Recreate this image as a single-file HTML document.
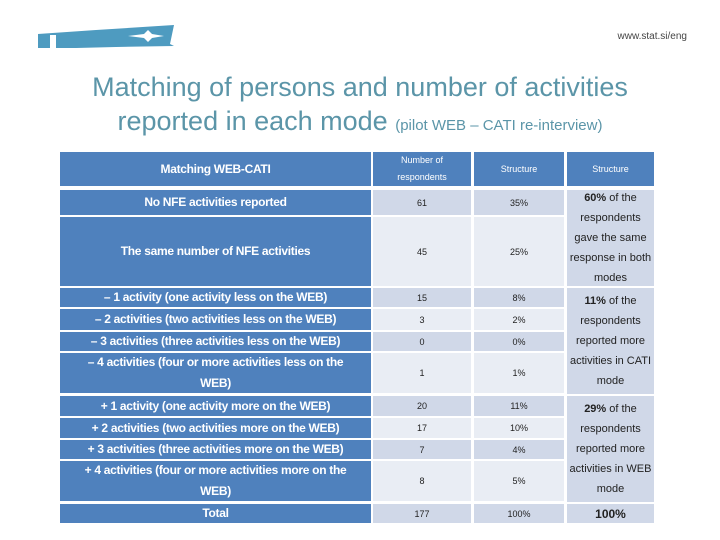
<!DOCTYPE html>
<html><head><meta charset="utf-8"><style>
body{margin:0;width:720px;height:540px;background:#fff;position:relative;overflow:hidden;font-family:"Liberation Sans",sans-serif}
.c{position:absolute;display:flex;align-items:center;justify-content:center;text-align:center;box-sizing:border-box}
.h{background:#4f81bd;color:#fff}
.l{font-size:12px;font-weight:bold;line-height:21px;letter-spacing:-0.3px}
.n{font-size:9px;color:#222}
.a{background:#d0d8e8}.b{background:#e9edf4}
.s{font-size:11px;color:#222;line-height:20px;background:#d0d8e8}
</style></head><body>
<svg style="position:absolute;left:36px;top:24px" width="142" height="26">
<polygon points="2,10 60,6 138,1 134,20 138,22 80,23 40,24 2,24" fill="#4e9bc0"/>
<rect x="14" y="11" width="6" height="13" fill="#fff"/>
<polygon points="92,12 108,10 112,6 116,10 128,12 116,14 112,18 108,14" fill="#fff"/>
</svg>
<div style="position:absolute;right:33px;top:31px;font-size:10px;color:#444">www.stat.si/eng</div>
<div style="position:absolute;left:0;width:720px;top:70px;text-align:center;color:#5b95a8;font-size:27px;line-height:34px">Matching of persons and number of activities<br>reported in each mode <span style="font-size:15px">(pilot WEB – CATI re-interview)</span></div>

<div class="c h l" style="left:60px;top:152px;width:311px;height:34px">Matching WEB-CATI</div>
<div class="c h" style="left:373px;top:152px;width:98px;height:34px;font-size:9px;line-height:17px">Number of<br>respondents</div>
<div class="c h" style="left:474px;top:152px;width:90px;height:34px;font-size:9px">Structure</div>
<div class="c h" style="left:567px;top:152px;width:87px;height:34px;font-size:9px">Structure</div>

<div id="rows"></div>

<div class="c s" style="left:567px;top:190px;width:87px;height:96px"><div><b>60%</b> of the<br>respondents<br>gave the same<br>response in both<br>modes</div></div>
<div class="c s" style="left:567px;top:288px;width:87px;height:106px"><div><b>11%</b> of the<br>respondents<br>reported more<br>activities in CATI<br>mode</div></div>
<div class="c s" style="left:567px;top:396px;width:87px;height:106px"><div><b>29%</b> of the<br>respondents<br>reported more<br>activities in WEB<br>mode</div></div>
<div class="c s" style="left:567px;top:504px;width:87px;height:19px;font-size:12px"><b>100%</b></div>

<script>
const labels=["No NFE activities reported","The same number of NFE activities","– 1 activity (one activity less on the WEB)","– 2 activities (two activities less on the WEB)","– 3 activities (three activities less on the WEB)","– 4 activities (four or more activities less on the<br>WEB)","+ 1 activity (one activity more on the WEB)","+ 2 activities (two activities more on the WEB)","+ 3 activities (three activities more on the WEB)","+ 4 activities (four or more activities more on the<br>WEB)","Total"];
const counts=[61,45,15,3,0,1,20,17,7,8,177];
const shares=["35%","25%","8%","2%","0%","1%","11%","10%","4%","5%","100%"];
const tops=[190,217,288,309,332,353,396,418,440,461,504];
const heights=[25,69,19,21,19,40,20,20,19,40,19];
const host=document.getElementById('rows');
labels.forEach((lab,i)=>{
 const bg=i%2===0?'a':'b';
 const l=document.createElement('div');l.className='c h l';
 
 
 l.style.cssText=`left:60px;top:${tops[i]}px;width:311px;height:${heights[i]}px`;l.innerHTML=lab;host.appendChild(l);
 const n=document.createElement('div');n.className='c n '+bg;
 
 
 n.style.cssText=`left:373px;top:${tops[i]}px;width:98px;height:${heights[i]}px`;n.textContent=counts[i];host.appendChild(n);
 const s=document.createElement('div');s.className='c n '+bg;
 
 
 s.style.cssText=`left:474px;top:${tops[i]}px;width:90px;height:${heights[i]}px`;s.textContent=shares[i];host.appendChild(s);
});
</script>
</body></html>
